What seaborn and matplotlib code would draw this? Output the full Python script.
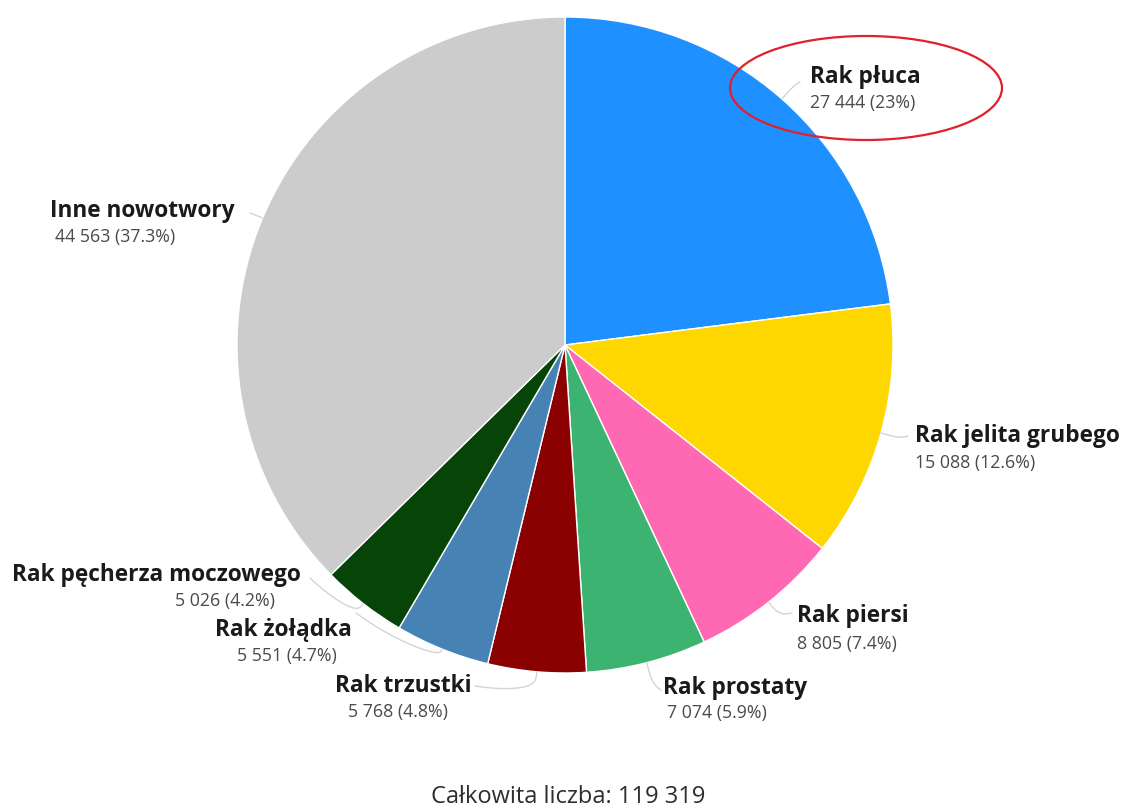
import numpy as np
import matplotlib
matplotlib.use("Agg")
import matplotlib.pyplot as plt
import seaborn as sns
from matplotlib.patches import Ellipse

# Deaths by cancer type
categories = [
    "Rak płuca",
    "Rak jelita grubego",
    "Rak piersi",
    "Rak prostaty",
    "Rak trzustki",
    "Rak żołądka",
    "Rak pęcherza moczowego",
    "Inne nowotwory",
]
counts = [27444, 15088, 8805, 7074, 5768, 5551, 5026, 44563]
percent_labels = ["23%", "12.6%", "7.4%", "5.9%", "4.8%", "4.7%", "4.2%", "37.3%"]
total = 119319

slice_colors = ["#1E90FF", "#FFD700", "#FF69B4", "#3CB371",
                "#8B0000", "#4682B4", "#074407", "#CCCCCC"]

sns.set_theme(style="white")
plt.rcParams["font.family"] = ["Open Sans", "DejaVu Sans"]

W, H, DPI = 1126, 808, 100
fig = plt.figure(figsize=(W / DPI, H / DPI), dpi=DPI)
ax = fig.add_axes([0, 0, 1, 1])

# pie geometry in pixels -> data units (radius = 1)
cx, cy, R = 565, 345, 328


def px(x, y):
    return (x - cx) / R, (cy - y) / R


wedges, _ = ax.pie(
    counts,
    colors=sns.color_palette(slice_colors),
    startangle=90,
    counterclock=False,
    radius=1.0,
    wedgeprops=dict(edgecolor="white", linewidth=1.0),
)

ax.set_xlim(-cx / R, (W - cx) / R)
ax.set_ylim(-(H - cy) / R, cy / R)
ax.set_aspect("equal")
ax.axis("off")


def fmt(n):
    return f"{n:,}".replace(",", " ")


# label layout: title anchor, value anchor, alignment, leader end point (pixels)
layout = [
    dict(t=(810, 77), v=(810, 103), ha="left", end=(800, 82)),
    dict(t=(915, 436), v=(915, 463), ha="left", end=(908, 436)),
    dict(t=(797, 616), v=(797, 644), ha="left", end=(792, 613)),
    dict(t=(663, 688), v=(667, 713), ha="left", end=(661, 690)),
    dict(t=(403, 686), v=(398, 712), ha="center", end=(475, 686)),
    dict(t=(283, 630), v=(287, 656), ha="center", end=(356, 613)),
    dict(t=(12, 575), v=(175, 601), ha="left", end=(310, 578)),
    dict(t=(50, 211), v=(55, 237), ha="left", end=(250, 213)),
]

for w, name, n, pct, lay in zip(wedges, categories, counts, percent_labels, layout):
    mid = np.deg2rad((w.theta1 + w.theta2) / 2.0)
    ex, ey = px(*lay["end"])
    r_end = np.hypot(ex, ey)
    a_end = np.arctan2(ey, ex)
    # unwrap so the curve takes the short way round
    d = (a_end - mid + np.pi) % (2 * np.pi) - np.pi
    s = np.linspace(0, 1, 40)
    rr = 1.0 + (r_end - 1.0) * np.sqrt(s)
    aa = mid + d * s ** 2
    ax.plot(rr * np.cos(aa), rr * np.sin(aa), color="#d4d4d4", lw=1.0,
            solid_capstyle="round", zorder=1)

    tx, ty = px(*lay["t"])
    vx, vy = px(*lay["v"])
    ax.text(tx, ty, name, ha=lay["ha"], va="center", fontsize=16.3,
            fontweight="bold", color="#1a1a1a")
    ax.text(vx, vy, f"{fmt(n)} ({pct})", ha=lay["ha"], va="center",
            fontsize=12.8, color="#4a4a4a")

# highlight around the lung cancer label
ex, ey = px(866, 88)
ax.add_patch(Ellipse((ex, ey), 272 / R, 104 / R, fill=False,
                     edgecolor="#E0202A", lw=1.6, zorder=5))

fx, fy = px(568, 797)
ax.text(fx, fy, f"Całkowita liczba: {fmt(total)}", ha="center", va="center",
        fontsize=17, color="#2e2e2e")

fig.savefig("out.png", dpi=DPI, facecolor="white")
